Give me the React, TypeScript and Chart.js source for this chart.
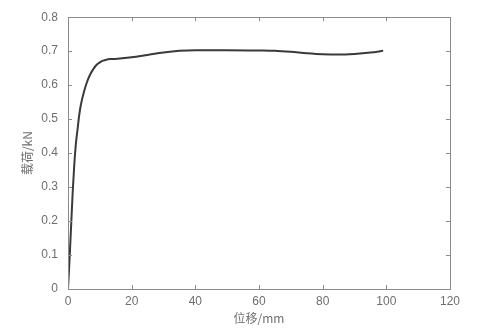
import React, { useEffect, useRef } from "react";
import { Chart, registerables } from "chart.js";

Chart.register(...registerables);

const displacement = [0, 0.5, 1, 1.5, 2, 2.5, 3, 3.5, 4, 5, 6, 7, 8, 9, 10, 11, 12, 14, 17, 20, 25, 30, 35, 40, 50, 60, 65, 70, 75, 80, 85, 90, 95, 99];
const load = [0, 0.09, 0.19, 0.29, 0.37, 0.43, 0.47, 0.51, 0.54, 0.58, 0.61, 0.632, 0.648, 0.66, 0.667, 0.672, 0.675, 0.677, 0.679, 0.682, 0.689, 0.696, 0.701, 0.703, 0.703, 0.702, 0.701, 0.698, 0.694, 0.691, 0.69, 0.692, 0.696, 0.701];
const xTicks = [0, 20, 40, 60, 80, 100, 120];
const yTicks = [0, 0.1, 0.2, 0.3, 0.4, 0.5, 0.6, 0.7, 0.8];
const xTitle = "位移/mm";
const yTitle = "载荷/kN";

const frameColor = "#8a8a8a";
const textColor = "#6e6e6e";

const framePlugin = {
  id: "frameTicks",
  afterDatasetsDraw(chart: any) {
    const { ctx, chartArea, scales } = chart;
    const { left, right, top, bottom } = chartArea;
    ctx.save();
    ctx.strokeStyle = frameColor;
    ctx.lineWidth = 1;
    ctx.strokeRect(Math.round(left) + 0.5, Math.round(top) + 0.5, Math.round(right - left), Math.round(bottom - top));
    const len = 4;
    ctx.beginPath();
    for (const v of xTicks) {
      const px = Math.round(scales.x.getPixelForValue(v)) + 0.5;
      ctx.moveTo(px, bottom);
      ctx.lineTo(px, bottom - len);
      ctx.moveTo(px, top);
      ctx.lineTo(px, top + len);
    }
    for (const v of yTicks) {
      const py = Math.round(scales.y.getPixelForValue(v)) + 0.5;
      ctx.moveTo(left, py);
      ctx.lineTo(left + len, py);
      ctx.moveTo(right, py);
      ctx.lineTo(right - len, py);
    }
    ctx.stroke();
    ctx.restore();
  },
};

export default function App() {
  const ref = useRef<HTMLCanvasElement | null>(null);
  useEffect(() => {
    if (!ref.current) return;
    const chart = new Chart(ref.current, {
      type: "scatter",
      data: {
        datasets: [
          {
            data: displacement.map((x, i) => ({ x, y: load[i] })),
            showLine: true,
            borderColor: "#3a3a3a",
            borderWidth: 2,
            pointRadius: 0,
            cubicInterpolationMode: "monotone",
          },
        ],
      },
      options: {
        animation: false,
        responsive: false,
        layout: { padding: { left: 0, right: 28, top: 15, bottom: 0 } },
        plugins: { legend: { display: false }, tooltip: { enabled: false } },
        scales: {
          x: {
            type: "linear",
            min: 0,
            max: 120,
            afterBuildTicks: (s: any) => {
              s.ticks = xTicks.map((v) => ({ value: v }));
            },
            afterFit: (s: any) => {
              s.height = 44;
            },
            grid: { display: false, drawTicks: false },
            border: { display: false },
            ticks: {
              color: textColor,
              font: { family: "'Liberation Sans', Arial, sans-serif", size: 12 },
              padding: 5,
              maxRotation: 0,
            },
            title: {
              display: true,
              text: xTitle,
              color: textColor,
              font: { family: "'Noto Sans CJK SC', sans-serif", size: 12 },
              padding: { top: 0, bottom: 7 },
            },
          },
          y: {
            type: "linear",
            min: 0,
            max: 0.8,
            afterBuildTicks: (s: any) => {
              s.ticks = yTicks.map((v) => ({ value: v }));
            },
            afterFit: (s: any) => {
              s.width = 68;
            },
            grid: { display: false, drawTicks: false },
            border: { display: false },
            ticks: {
              color: textColor,
              font: { family: "'Liberation Sans', Arial, sans-serif", size: 12 },
              padding: 10,
              callback: (v: any) => String(Math.round(Number(v) * 10) / 10),
            },
            title: {
              display: true,
              text: yTitle,
              color: textColor,
              font: { family: "'Noto Sans CJK SC', sans-serif", size: 12 },
              padding: { top: 20, bottom: 0 },
            },
          },
        },
      },
      plugins: [framePlugin],
    } as any);
    return () => chart.destroy();
  }, []);
  return (
    <div style={{ position: "fixed", left: 0, top: 0, width: 478, height: 333, background: "#fff" }}>
      <canvas ref={ref} width={478} height={333} />
    </div>
  );
}
